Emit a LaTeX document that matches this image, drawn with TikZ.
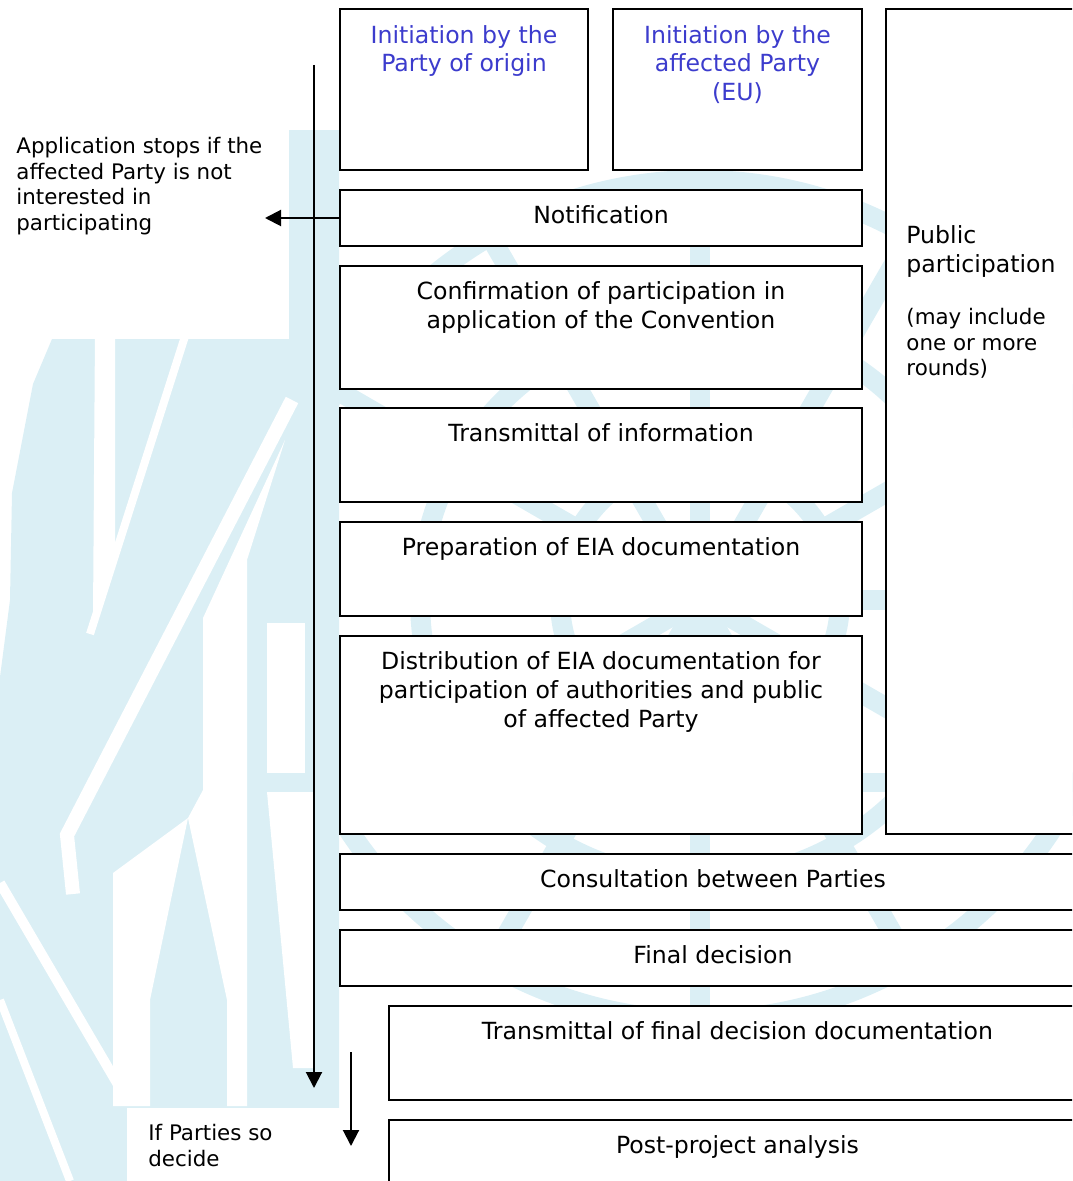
\documentclass[tikz,border=0pt]{standalone}
\usepackage{fontspec}
\setmainfont{DejaVu Sans}
\usetikzlibrary{arrows.meta, positioning}
\definecolor{wmblue}{RGB}{219,239,245}
\definecolor{initblue}{RGB}{60,60,205}

\begin{document}
\begin{tikzpicture}[x=0.5pt, y=-0.5pt,
  stage/.style={draw, fill=white, line width=1pt, anchor=north west, inner sep=0pt},
  stagetext/.style={align=center, inner sep=0pt, font=\fontsize{11.8}{14.3}\selectfont},
  inittext/.style={stagetext, text=initblue},
  note/.style={align=left, inner sep=0pt, anchor=north west, font=\fontsize{10.7}{12.8}\selectfont},
  flow/.style={line width=1pt, -{Triangle[width=8pt, length=8pt]}}]
\useasboundingbox (0,0) rectangle (1072,1181);
\clip (0,0) rectangle (1072,1181);

% Watermark
\begin{scope}[wmblue]
\foreach \r in {70pt,140pt,210pt}
  \draw[line width=10pt] (700,600) circle[radius=\r];
\foreach \a in {0,30,...,150}
  \draw[line width=10pt] (700,600) ++(\a:420) -- ++(\a+180:840);
\fill (267,773) rectangle (1085,792);
\fill (0,677) -- (10,600) -- (12,493) -- (33,384) -- (52,339) -- (52,130)
  .. controls (200,130) and (300,120) .. (339,130) -- (339,1181) -- (0,1181) -- cycle;
\end{scope}
\begin{scope}[white]
\fill (95,330) -- (115,330) -- (115,547) -- (93,618) -- cycle;
\draw[line width=4pt] (187,330) -- (90,634);
\draw[line width=7pt] (292,400) -- (67,835) -- (73,894);
\fill (285,440) -- (247,560) -- (247,1106) -- (227,1106) -- (227,1000)
  -- (188,818) -- (203,790) -- (203,618) -- cycle;
\fill (188,818) -- (150,1000) -- (150,1106) -- (113,1106) -- (113,873) -- cycle;
\fill (267,623) rectangle (305,773);
\fill (267,792) -- (313,792) -- (313,1068) -- (293,1068) -- cycle;
\draw[line width=5pt] (0,883) -- (127,1100);
\draw[line width=4pt] (0,1000) -- (70,1181);
\fill (0,0) rectangle (339,130);
\fill (0,0) rectangle (289,339);
\fill (127,1108) rectangle (345,1181);
\end{scope}

% Stages
\node[stage, minimum width=124pt, minimum height=80.5pt] (origin) at (339,8) {};
\node[inittext, below=8.5pt of origin.north] {Initiation by the\\Party of origin};
\node[stage, minimum width=124.5pt, minimum height=80.5pt] (affected) at (612,8) {};
\node[inittext, below=8.5pt of affected.north] {Initiation by the\\affected Party\\(EU)};
\node[stage, minimum width=100pt, minimum height=412.5pt] (public) at (885,8) {};
\node[stagetext, align=left, below right=108.8pt and 10.5pt of public.north west] {Public\\participation};
\node[note, below right=150pt and 10.5pt of public.north west] {(may include\\one or more\\rounds)};

\node[stage, minimum width=261pt, minimum height=28pt] (notif) at (339,189) {};
\node[stagetext, below=8.3pt of notif.north] {Notification};
\node[stage, minimum width=261pt, minimum height=61.5pt] (confirm) at (339,265) {};
\node[stagetext, below=8.3pt of confirm.north] {Confirmation of participation in\\application of the Convention};
\node[stage, minimum width=261pt, minimum height=47pt] (transinfo) at (339,407) {};
\node[stagetext, below=8.3pt of transinfo.north] {Transmittal of information};
\node[stage, minimum width=261pt, minimum height=47pt] (prepeia) at (339,521) {};
\node[stagetext, below=8.3pt of prepeia.north] {Preparation of EIA documentation};
\node[stage, minimum width=261pt, minimum height=99pt] (distrib) at (339,635) {};
\node[stagetext, below=8.3pt of distrib.north] {Distribution of EIA documentation for\\participation of authorities and public\\of affected Party};
\node[stage, minimum width=373pt, minimum height=28pt] (consult) at (339,853) {};
\node[stagetext, below=8.3pt of consult.north] {Consultation between Parties};
\node[stage, minimum width=373pt, minimum height=28pt] (finaldec) at (339,929) {};
\node[stagetext, below=8.3pt of finaldec.north] {Final decision};
\node[stage, minimum width=348.5pt, minimum height=47pt] (transfinal) at (388,1005) {};
\node[stagetext, below=8.3pt of transfinal.north] {Transmittal of final decision documentation};
\node[stage, minimum width=348.5pt, minimum height=47pt] (postproj) at (388,1119) {};
\node[stagetext, below=8.3pt of postproj.north] {Post-project analysis};

% Flow arrows
\coordinate (flowtop) at (314,65);
\coordinate (flowend) at (314,1088);
\draw[flow] (flowtop) -- (flowend);
\coordinate[left=37pt of notif.west] (stopend);
\draw[flow] (notif.west) -- (stopend);
\coordinate (optstart) at (351,1052);
\coordinate (optend) at (351,1146);
\draw[flow] (optstart) -- (optend);

\node[note] (stopnote) at (16,137) {Application stops if the\\affected Party is not\\interested in\\participating};
\node[note] (decidenote) at (148,1124) {If Parties so\\decide};
\end{tikzpicture}
\end{document}
